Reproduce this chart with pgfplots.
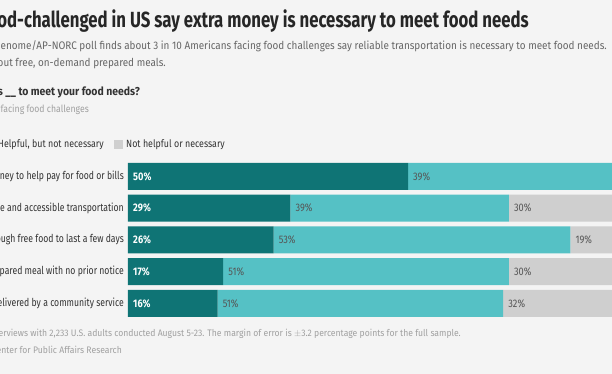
\documentclass[border=0pt]{standalone}
\usepackage{pgfplots}
\pgfplotsset{compat=1.18}
\usepackage{fontspec}
\setmainfont{Fira Sans}[FakeStretch=0.905]
\newfontfamily\titlefont{Fira Sans}[FakeStretch=0.765]
\newfontfamily\catfont{Fira Sans}[FakeStretch=0.79]
\newfontfamily\pctfont{Fira Sans}[FakeStretch=0.84]
\newfontfamily\qfont{Fira Sans}[FakeStretch=0.91]
\newfontfamily\sqfont{Fira Sans}[FakeStretch=0.87]
\newfontfamily\legfont{Fira Sans}[FakeStretch=0.85]
\newfontfamily\footfont{Fira Sans}[FakeStretch=0.91]
\definecolor{bg}{HTML}{F4F4F4}
\definecolor{darkc}{HTML}{0F7475}
\definecolor{midc}{HTML}{55C1C5}
\definecolor{grayc}{HTML}{CFCFCF}
\definecolor{titlec}{HTML}{262626}
\definecolor{subc}{HTML}{666666}
\definecolor{labc}{HTML}{333333}
\definecolor{footc}{HTML}{A0A0A0}
\definecolor{pctc}{HTML}{555555}

\pgfplotstableread{
y necessary helpful nothelpful
0 50 39 10
1 29 39 30
2 26 53 19
3 17 51 30
4 16 51 32
}\datatable

\pgfplotstableread{
x y label
0.9 0 50\%
0.9 1 29\%
0.9 2 26\%
0.9 3 17\%
0.9 4 16\%
}\darklabels

\pgfplotstableread{
x y label
50.9 0 39\%
29.9 1 39\%
68.9 1 30\%
26.9 2 53\%
79.9 2 19\%
17.9 3 51\%
68.9 3 30\%
16.9 4 51\%
67.9 4 32\%
}\lightlabels

\pgfplotsset{
  base/.style={
    at={(128bp,213.4bp)}, anchor=north west,
    scale only axis, width=560bp, height=158.75bp,
    xmin=0, xmax=100, ymin=-0.5, ymax=4.5, y dir=reverse,
    axis line style={draw=none}, tick style={draw=none},
    major tick length=0pt, xtick=\empty, clip=false,
  }
}

\begin{document}
\begin{tikzpicture}
\useasboundingbox (0,0) rectangle (612bp,374bp);
\fill[bg] (0,0) rectangle (612bp,374bp);
\clip (0,0) rectangle (612bp,374bp);

\begin{axis}[base,
  xbar stacked, bar width=27bp,
  ytick={0,1,2,3,4},
  yticklabels={Extra money to help pay for food or bills,
               Reliable and accessible transportation,
               Enough free food to last a few days,
               A prepared meal with no prior notice,
               Meals delivered by a community service},
  yticklabel style={inner sep=0pt, xshift=-4bp, text=labc,
    font=\catfont\fontsize{11}{13}\selectfont},
]
\addplot[fill=darkc, draw=none] table[x=necessary, y=y] {\datatable};
\addplot[fill=midc, draw=none] table[x=helpful, y=y] {\datatable};
\addplot[fill=grayc, draw=none] table[x=nothelpful, y=y] {\datatable};
\end{axis}

\begin{axis}[base, ytick=\empty]
\addplot[draw=none, mark=none, nodes near coords, point meta=explicit symbolic,
  every node near coord/.append style={anchor=west, inner sep=0pt, text=white,
    font=\pctfont\bfseries\fontsize{11}{13}\selectfont}]
  table[x=x, y=y, meta=label] {\darklabels};
\addplot[draw=none, mark=none, nodes near coords, point meta=explicit symbolic,
  every node near coord/.append style={anchor=west, inner sep=0pt, text=pctc,
    font=\pctfont\fontsize{11}{13}\selectfont}]
  table[x=x, y=y, meta=label] {\lightlabels};
\end{axis}

\begin{scope}[x=1bp, y=-1bp, shift={(0,374bp)}]
\node[anchor=base east, inner sep=0, text=titlec,
  font=\titlefont\bfseries\fontsize{22}{26}\selectfont] at (529,28)
  {Most food-challenged in US say extra money is necessary to meet food needs};
\node[anchor=base east, inner sep=0, text=subc,
  font=\fontsize{11}{13}\selectfont] at (607,50)
  {A new Genome/AP-NORC poll finds about 3 in 10 Americans facing food challenges say reliable transportation is necessary to meet food needs.};
\node[anchor=base east, inner sep=0, text=subc,
  font=\fontsize{11}{13}\selectfont] at (166,67)
  {Fewer say the same about free, on-demand prepared meals.};
\node[anchor=base east, inner sep=0, text=labc,
  font=\qfont\bfseries\fontsize{11.5}{13}\selectfont] at (140,96)
  {How necessary is \_\_ to meet your food needs?};
\node[anchor=base east, inner sep=0, text=footc,
  font=\sqfont\fontsize{10}{12}\selectfont] at (89,113)
  {Among adults facing food challenges};
% legend
\fill[darkc] (-150,140) rectangle (-141,149);
\node[anchor=base west, inner sep=0, text=labc,
  font=\legfont\fontsize{10.5}{12}\selectfont] at (-138,148) {Necessary};
\fill[midc] (-12,140) rectangle (-3,149);
\node[anchor=base east, inner sep=0, text=labc,
  font=\legfont\fontsize{10.5}{12}\selectfont] at (104,148) {Helpful, but not necessary};
\fill[grayc] (114,140) rectangle (123,149);
\node[anchor=base west, inner sep=0, text=labc,
  font=\legfont\fontsize{10.5}{12}\selectfont] at (126,148) {Not helpful or necessary};
% footer
\node[anchor=base east, inner sep=0, text=footc,
  font=\footfont\fontsize{9.5}{11}\selectfont] at (461,337)
  {Source: AP-NORC poll of 2,233 interviews with 2,233 U.S. adults conducted August 5-23. The margin of error is $\pm$3.2 percentage points for the full sample.};
\node[anchor=base east, inner sep=0, text=footc,
  font=\footfont\fontsize{9.5}{11}\selectfont] at (122,354)
  {Source: AP-NORC Center for Public Affairs Research};
\end{scope}
\end{tikzpicture}
\end{document}
